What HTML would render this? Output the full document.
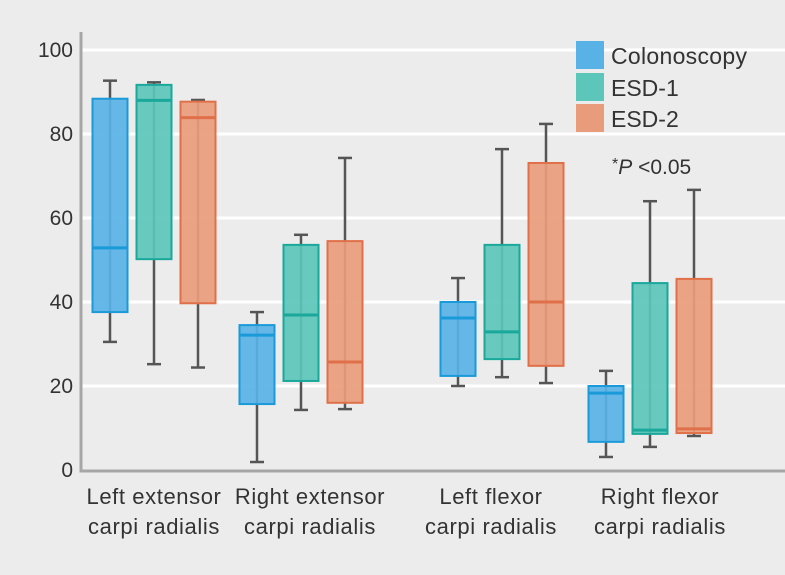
<!DOCTYPE html>
<html><head><meta charset="utf-8"><style>
html,body{margin:0;padding:0;background:#ececec;}
svg{display:block;font-family:"Liberation Sans",sans-serif;}
</style></head><body>
<svg id="chart" width="785" height="575" viewBox="0 0 785 575">
<rect width="785" height="575" fill="#ececec"/>
<g id="grid"></g><g id="boxes"></g><g id="axes"></g>
<g font-size="23" fill="#333">
<rect x="576" y="41" width="28" height="28" fill="#58b2e6"/>
<text x="611" y="64" letter-spacing="0.3">Colonoscopy</text>
<rect x="576" y="73" width="28" height="28" fill="#5cc6bb"/>
<text x="611" y="96">ESD-1</text>
<rect x="576" y="104" width="28" height="28" fill="#e99c7b"/>
<text x="611" y="127">ESD-2</text>
<text x="612" y="174" font-size="21"><tspan font-size="16" dy="-5">*</tspan><tspan font-style="italic" dy="5">P</tspan> &lt;0.05</text>
</g>
</svg>
<script>
const categories=[["Left extensor","carpi radialis"],["Right extensor","carpi radialis"],["Left flexor","carpi radialis"],["Right flexor","carpi radialis"]];
const seriesNames=["Colonoscopy","ESD-1","ESD-2"];
// each: [min,q1,median,q3,max] per category
const colonoscopy=[[30.5,37.6,52.9,88.4,92.7],[1.9,15.7,32.1,34.5,37.6],[20,22.4,36.2,40,45.7],[3.1,6.7,18.3,20,23.6]];
const esd1=[[25.2,50.2,88,91.7,92.3],[14.3,21.2,36.9,53.6,56],[22.1,26.4,32.9,53.6,76.4],[5.5,8.6,9.5,44.5,64]];
const esd2=[[24.4,39.7,83.9,87.7,88.1],[14.5,16,25.7,54.5,74.3],[20.7,24.8,40,73.1,82.4],[8.1,8.8,9.8,45.5,66.7]];
const yTicks=[0,20,40,60,80,100];

const NS="http://www.w3.org/2000/svg";
const y=v=>470-v*4.2;
const centers=[154,301,502,650];
const labelX=[154,310,491,660];
const xc=(ci,si)=>centers[ci]+(si-1)*44;
const fills=["#58b2e6","#5cc6bb","#e99c7b"], strokes=["#1a9ad9","#1aa89b","#e0704a"];
function mk(tag,attrs,parent){const e=document.createElementNS(NS,tag);for(const k in attrs)e.setAttribute(k,attrs[k]);parent.appendChild(e);return e;}
const grid=document.getElementById("grid"),boxes=document.getElementById("boxes"),axes=document.getElementById("axes");
yTicks.forEach(t=>{
  if(t>0){const l=mk("line",{x1:82,x2:785,y1:y(t),y2:y(t),stroke:"#fff","stroke-width":3},grid);
  
  }
  const tx=mk("text",{x:73,y:y(t)+7,"text-anchor":"end","font-size":21,fill:"#333"},axes);
  tx.textContent=t;
  
  
});
[colonoscopy,esd1,esd2].forEach((ser,si)=>{
  ser.forEach((d,ci)=>{
    const g=mk("g",{},boxes);
    
    
    const cx=xc(ci,si),w=35;
    mk("line",{x1:cx,x2:cx,y1:y(d[4]),y2:y(d[0]),stroke:"#555","stroke-width":2.5},g);
    mk("line",{x1:cx-7,x2:cx+7,y1:y(d[4]),y2:y(d[4]),stroke:"#555","stroke-width":2.5},g);
    mk("line",{x1:cx-7,x2:cx+7,y1:y(d[0]),y2:y(d[0]),stroke:"#555","stroke-width":2.5},g);
    mk("rect",{x:cx-w/2,y:y(d[3]),width:w,height:y(d[1])-y(d[3]),fill:fills[si],"fill-opacity":0.92,stroke:strokes[si],"stroke-width":2},g);
    mk("line",{x1:cx-w/2,x2:cx+w/2,y1:y(d[2]),y2:y(d[2]),stroke:strokes[si],"stroke-width":3},g);
  });
});
const ax=mk("path",{d:"M81,32 V471 H785",fill:"none",stroke:"#a6a6a6","stroke-width":3},axes);


categories.forEach((c,i)=>{
  const t=mk("text",{x:labelX[i],"text-anchor":"middle","font-size":22,"letter-spacing":0.6,fill:"#333"},axes);
  
  
  c.forEach((s,j)=>{const ts=mk("tspan",{x:labelX[i],y:504+j*30},t);ts.textContent=s;});
});
</script>
</body></html>
